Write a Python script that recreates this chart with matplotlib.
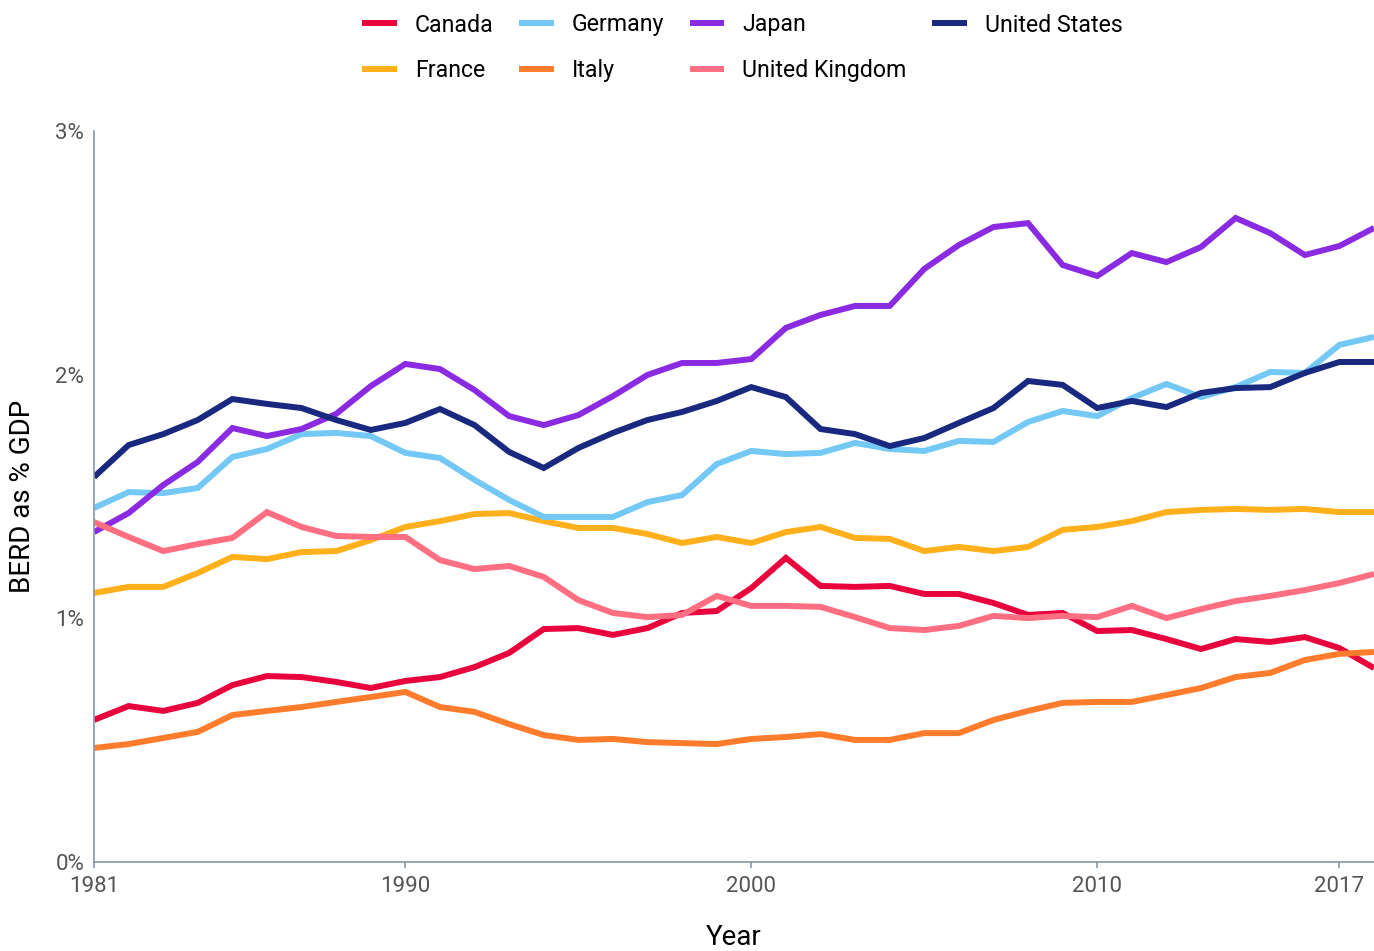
import matplotlib
matplotlib.use("Agg")
import matplotlib.pyplot as plt
import numpy as np

plt.rcParams["font.family"] = ["Roboto", "DejaVu Sans"]

# BERD as % of GDP, 1981-2018
years = list(range(1981, 2019))

canada = [0.583, 0.640, 0.620, 0.653, 0.726, 0.763, 0.759, 0.739, 0.714, 0.743,
          0.759, 0.800, 0.858, 0.956, 0.960, 0.932, 0.960, 1.022, 1.030, 1.124,
          1.248, 1.133, 1.129, 1.133, 1.100, 1.100, 1.063, 1.014, 1.022, 0.948,
          0.952, 0.915, 0.874, 0.915, 0.903, 0.923, 0.878, 0.796]
france = [1.104, 1.129, 1.129, 1.186, 1.252, 1.243, 1.272, 1.276, 1.321, 1.375,
          1.399, 1.428, 1.432, 1.399, 1.371, 1.371, 1.346, 1.309, 1.334, 1.309,
          1.354, 1.375, 1.330, 1.326, 1.276, 1.293, 1.276, 1.293, 1.363, 1.375,
          1.399, 1.436, 1.445, 1.449, 1.445, 1.449, 1.436, 1.436]
germany = [1.453, 1.518, 1.514, 1.535, 1.662, 1.695, 1.756, 1.761, 1.748, 1.679,
           1.658, 1.568, 1.486, 1.416, 1.416, 1.416, 1.477, 1.506, 1.633, 1.687,
           1.674, 1.679, 1.720, 1.695, 1.687, 1.728, 1.724, 1.806, 1.851, 1.830,
           1.904, 1.962, 1.908, 1.949, 2.011, 2.007, 2.122, 2.155]
italy = [0.468, 0.484, 0.509, 0.534, 0.603, 0.620, 0.636, 0.657, 0.677, 0.698,
         0.636, 0.616, 0.566, 0.521, 0.501, 0.505, 0.492, 0.488, 0.484, 0.505,
         0.513, 0.525, 0.501, 0.501, 0.529, 0.529, 0.583, 0.620, 0.653, 0.657,
         0.657, 0.685, 0.714, 0.759, 0.776, 0.829, 0.854, 0.862]
japan = [1.354, 1.432, 1.547, 1.642, 1.781, 1.748, 1.777, 1.839, 1.953, 2.044,
         2.023, 1.937, 1.830, 1.793, 1.834, 1.912, 1.999, 2.048, 2.048, 2.064,
         2.192, 2.245, 2.282, 2.282, 2.434, 2.532, 2.606, 2.622, 2.450, 2.405,
         2.499, 2.462, 2.524, 2.643, 2.581, 2.491, 2.528, 2.602]
uk = [1.395, 1.334, 1.276, 1.305, 1.330, 1.436, 1.375, 1.338, 1.334, 1.334,
      1.239, 1.202, 1.215, 1.170, 1.075, 1.022, 1.005, 1.014, 1.092, 1.051,
      1.051, 1.047, 1.005, 0.960, 0.952, 0.969, 1.010, 1.001, 1.010, 1.005,
      1.051, 1.001, 1.038, 1.071, 1.092, 1.116, 1.145, 1.182]
us = [1.580, 1.711, 1.756, 1.814, 1.900, 1.880, 1.863, 1.814, 1.773, 1.802,
      1.859, 1.793, 1.683, 1.617, 1.699, 1.761, 1.814, 1.847, 1.892, 1.949,
      1.908, 1.777, 1.756, 1.707, 1.740, 1.802, 1.863, 1.974, 1.958, 1.863,
      1.892, 1.867, 1.925, 1.945, 1.949, 2.007, 2.052, 2.052]

countries = ["Canada", "France", "Germany", "Italy", "Japan", "United Kingdom", "United States"]
series = [canada, france, germany, italy, japan, uk, us]
colors = ["#e8033c", "#ffb01b", "#73c8f5", "#ff7c2c", "#8a2be2", "#ff6f81", "#19297f"]

x_ticks = [1981, 1990, 2000, 2010, 2017]
y_ticks = [0, 1, 2, 3]

spine_col = "#8796a5"
tick_col = "#555555"

fig = plt.figure(figsize=(13.74, 9.51), dpi=100)
ax = fig.add_axes([94 / 1374, 89 / 951, 1280 / 1374, 731 / 951])

for name, vals, c in zip(countries, series, colors):
    ax.plot(years, vals, color=c, linewidth=4.3, label=name,
            solid_joinstyle="miter", solid_capstyle="butt")

ax.set_xlim(1981, 2018)
ax.set_ylim(0, 3)
ax.set_xticks(x_ticks)
ax.set_xticklabels([str(t) for t in x_ticks])
ax.set_yticks(y_ticks)
ax.set_yticklabels([f"{t}%" for t in y_ticks])

for s in ["top", "right"]:
    ax.spines[s].set_visible(False)
for s in ["left", "bottom"]:
    ax.spines[s].set_color(spine_col)
    ax.spines[s].set_linewidth(1.2)

ax.tick_params(axis="x", length=4.3, width=1.2, color=spine_col, pad=6,
               labelsize=16, labelcolor=tick_col)
ax.tick_params(axis="y", length=0, pad=7, labelsize=16, labelcolor=tick_col)

ax.set_xlabel("Year", fontsize=20, color="black", va="baseline")
ax.xaxis.set_label_coords(0.5, -83 / 731)
ax.set_ylabel("BERD as % GDP", fontsize=20, color="black", va="center")
ax.yaxis.set_label_coords(-71 / 1280, 0.5)

fig.legend(loc="upper left", bbox_to_anchor=(362 / 1374, 1 - 13.5 / 951),
           ncol=4, frameon=False, fontsize=16.7, handlelength=1.5,
           handletextpad=0.77, columnspacing=1.1, labelspacing=0.97,
           borderpad=0, borderaxespad=0)

fig.savefig("out.png", dpi=100)
plt.close(fig)
